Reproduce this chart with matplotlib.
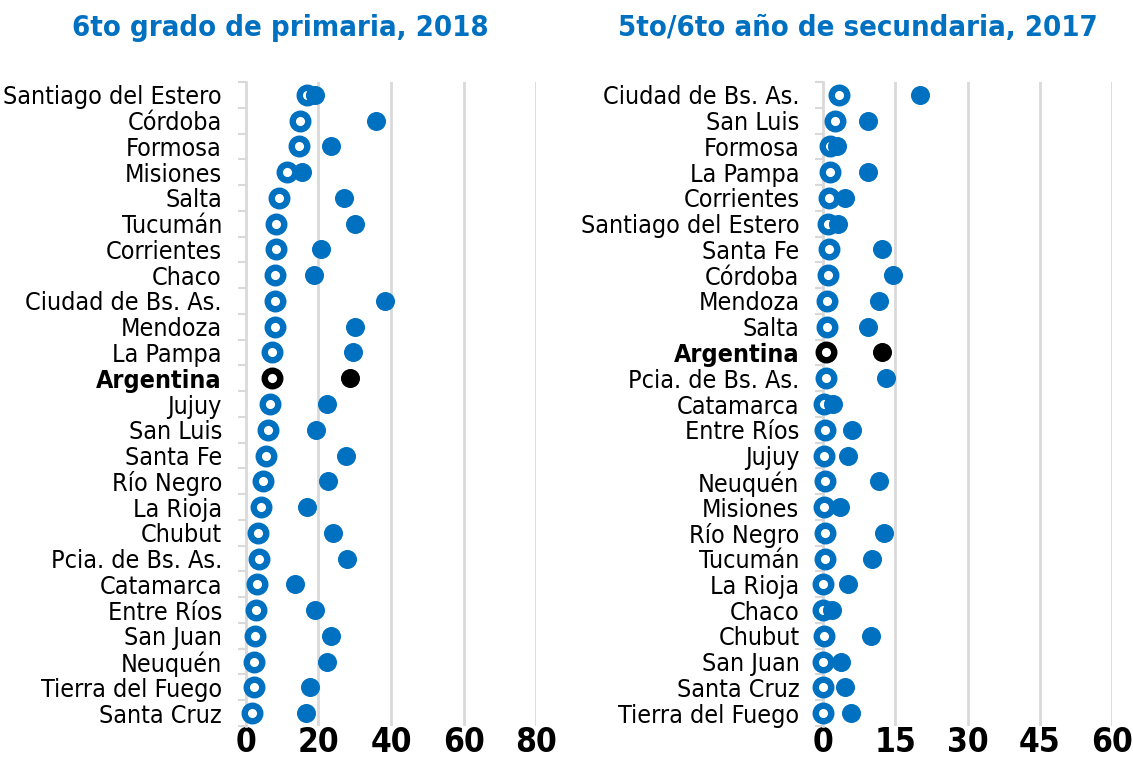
import matplotlib
matplotlib.use('Agg')
import matplotlib.pyplot as plt

plt.rcParams['font.family'] = ['DejaVu Sans']
plt.rcParams['font.stretch'] = 'condensed'

AZUL = '#0070C0'
GRIS = '#d9d9d9'

# 6to grado de primaria, 2018
prov_prim = ['Santiago del Estero', 'Córdoba', 'Formosa', 'Misiones', 'Salta', 'Tucumán',
             'Corrientes', 'Chaco', 'Ciudad de Bs. As.', 'Mendoza', 'La Pampa', 'Argentina',
             'Jujuy', 'San Luis', 'Santa Fe', 'Río Negro', 'La Rioja', 'Chubut',
             'Pcia. de Bs. As.', 'Catamarca', 'Entre Ríos', 'San Juan', 'Neuquén',
             'Tierra del Fuego', 'Santa Cruz']
prim_hueco = [16.8, 15.1, 14.6, 11.3, 9.1, 8.5, 8.5, 8.0, 8.0, 8.0, 7.4, 7.2,
              6.7, 6.2, 5.7, 4.7, 4.2, 3.5, 3.6, 3.2, 3.0, 2.7, 2.2, 2.2, 1.7]
prim_lleno = [19.0, 35.9, 23.5, 15.6, 27.0, 30.2, 20.8, 18.8, 38.4, 30.0, 29.5, 28.7,
              22.5, 19.5, 27.7, 22.8, 16.9, 24.0, 28.0, 13.6, 19.2, 23.5, 22.5, 17.8, 16.6]

# 5to/6to año de secundaria, 2017
prov_sec = ['Ciudad de Bs. As.', 'San Luis', 'Formosa', 'La Pampa', 'Corrientes',
            'Santiago del Estero', 'Santa Fe', 'Córdoba', 'Mendoza', 'Salta', 'Argentina',
            'Pcia. de Bs. As.', 'Catamarca', 'Entre Ríos', 'Jujuy', 'Neuquén', 'Misiones',
            'Río Negro', 'Tucumán', 'La Rioja', 'Chaco', 'Chubut', 'San Juan',
            'Santa Cruz', 'Tierra del Fuego']
sec_hueco = [3.3, 2.4, 1.4, 1.4, 1.2, 1.1, 1.2, 1.0, 0.8, 0.8, 0.65, 0.6, 0.2,
             0.4, 0.3, 0.4, 0.3, 0.4, 0.4, 0.1, 0.1, 0.2, 0.1, 0.1, 0.1]
sec_lleno = [20.2, 9.3, 3.0, 9.3, 4.6, 3.2, 12.3, 14.5, 11.7, 9.3, 12.3, 13.1, 2.1,
             6.0, 5.1, 11.7, 3.5, 12.6, 10.2, 5.1, 1.9, 9.9, 3.8, 4.6, 5.9]

fig = plt.figure(figsize=(11.33, 7.58), dpi=100)
ax1 = fig.add_axes([0.2167, 0.0422, 0.2568, 0.8496])
ax2 = fig.add_axes([0.7264, 0.0422, 0.2551, 0.8496])


def panel(ax, provs, hueco, lleno, xmax, xticks, titulo, xt):
    n = len(provs)
    for i, p in enumerate(provs):
        c = 'black' if p == 'Argentina' else AZUL
        ax.plot(hueco[i], i, 'o', ms=11.2, mfc='white', mec=c, mew=4.6,
                zorder=3, clip_on=False)
        ax.plot(lleno[i], i, 'o', ms=13.7, mfc=c, mec='none', zorder=4, clip_on=False)
    ax.set_xlim(0, xmax)
    ax.set_ylim(n - 0.5, -0.5)
    ax.set_xticks(xticks)
    ax.set_xticklabels([str(t) for t in xticks], fontsize=24, fontweight='bold')
    ax.tick_params(axis='x', length=0, pad=0)
    ax.set_yticks(range(n))
    ax.set_yticklabels(provs, fontsize=18)
    ax.set_yticks([k - 0.5 for k in range(n + 1)], minor=True)
    ax.tick_params(axis='y', which='major', length=0, pad=17)
    ax.tick_params(axis='y', which='minor', length=6, width=1.5, color=GRIS)
    for lbl in ax.get_yticklabels():
        if lbl.get_text() == 'Argentina':
            lbl.set_fontweight('bold')
    for t in xticks[1:]:
        ax.axvline(t, color=GRIS, lw=2, zorder=1)
    for s in ['top', 'right', 'bottom']:
        ax.spines[s].set_visible(False)
    ax.spines['left'].set_color(GRIS)
    ax.spines['left'].set_linewidth(2)
    fig.text(xt, 0.963, titulo, ha='center', va='center', fontsize=21,
             fontweight='bold', color=AZUL)


panel(ax1, prov_prim, prim_hueco, prim_lleno, 80, [0, 20, 40, 60, 80],
      '6to grado de primaria, 2018', 280 / 1133)
panel(ax2, prov_sec, sec_hueco, sec_lleno, 60, [0, 15, 30, 45, 60],
      '5to/6to año de secundaria, 2017', 858 / 1133)

fig.savefig('out.png', dpi=100)
